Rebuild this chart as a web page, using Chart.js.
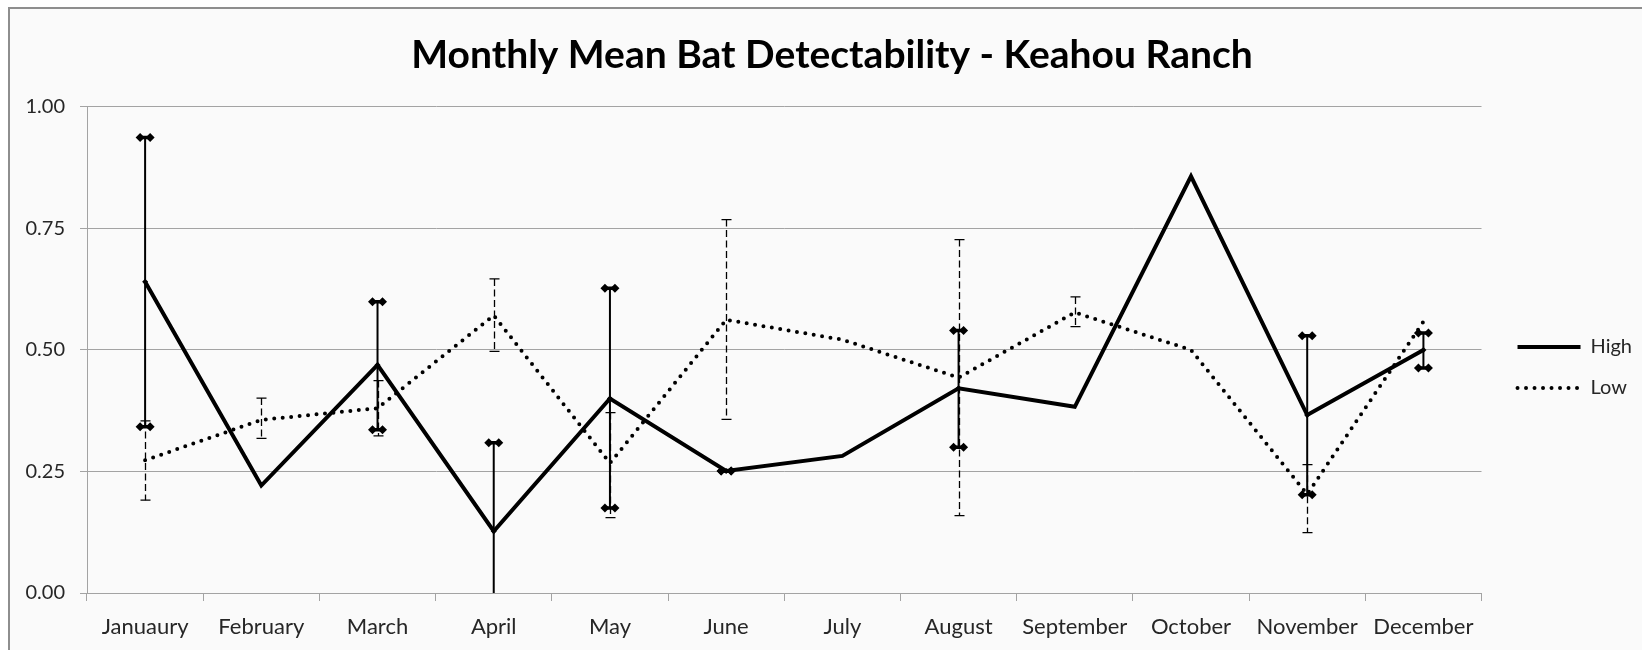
<!DOCTYPE html>
<html>
<head>
<meta charset="utf-8">
<script src="https://cdn.jsdelivr.net/npm/chart.js@4.4.1/dist/chart.umd.min.js"></script>
<style>
  body { margin: 0; background: #ffffff; }
  #frame { position: absolute; left: 8px; top: 7px; width: 1700px; height: 700px; border: 2px solid #8e8e8e; background: #fafafa; }
  #myChart { position: absolute; left: 0; top: 0; }
</style>
</head>
<body>
<div id="frame"></div>
<canvas id="myChart" width="1642" height="650"></canvas>
<script>
// months as written on the original chart
var months = ['Januaury', 'February', 'March', 'April', 'May', 'June', 'July', 'August', 'September', 'October', 'November', 'December'];

// High detectability: mean and error bar ends (null = no bar)
var highMean  = [0.640, 0.221, 0.469, 0.127, 0.400, 0.251, 0.282, 0.421, 0.383, 0.857, 0.366, 0.500];
var highUpper = [0.937, null,  0.599, 0.309, 0.627, 0.251, null,  0.540, null,  null,  0.529, 0.535];
var highLower = [0.342, null,  0.336, -0.055, 0.175, 0.251, null, 0.300, null,  null,  0.202, 0.463];

// Low detectability
var lowMean  = [0.273, 0.356, 0.380, 0.571, 0.267, 0.562, 0.521, 0.443, 0.577, 0.500, 0.203, 0.558];
var lowUpper = [0.354, 0.401, 0.437, 0.646, 0.371, 0.768, null,  0.727, 0.609, null,  0.264, null];
var lowLower = [0.191, 0.318, 0.323, 0.497, 0.155, 0.357, null,  0.159, 0.548, null,  0.124, null];

var yTicks = [0, 0.25, 0.5, 0.75, 1];

var gridGrey = '#a3a3a3';
var textCol = '#262626';

function diamond(ctx, x, y, hw, hh) {
    ctx.beginPath();
    ctx.moveTo(x - hw, y);
    ctx.lineTo(x, y - hh);
    ctx.lineTo(x + hw, y);
    ctx.lineTo(x, y + hh);
    ctx.closePath();
    ctx.fill();
}

// draws the error bars using the chart's own scales
var errorBars = {
    id: 'errorBars',
    afterDatasetsDraw: function(chart) {
        var ctx = chart.ctx;
        var xs = chart.scales.x, ys = chart.scales.y, a = chart.chartArea;
        ctx.save();
        ctx.beginPath();
        ctx.rect(a.left, a.top - 20, a.right - a.left, a.bottom - a.top + 20);
        ctx.clip();
        ctx.strokeStyle = '#000';
        ctx.fillStyle = '#000';

        // low: thin dashed bars with plain caps
        ctx.lineWidth = 1.3;
        for (var i = 0; i < months.length; i++) {
            if (lowUpper[i] == null) continue;
            var px = Math.round(xs.getPixelForValue(i)) + 0.5;
            var yt = ys.getPixelForValue(lowUpper[i]);
            var yb = ys.getPixelForValue(lowLower[i]);
            ctx.setLineDash([7, 3.5]);
            ctx.beginPath();
            ctx.moveTo(px, yt);
            ctx.lineTo(px, yb);
            ctx.stroke();
            ctx.setLineDash([]);
            ctx.beginPath();
            ctx.moveTo(px - 5, yt); ctx.lineTo(px + 5, yt);
            ctx.moveTo(px - 5, yb); ctx.lineTo(px + 5, yb);
            ctx.stroke();
        }

        // high: solid bars with diamond-ended caps
        for (var j = 0; j < months.length; j++) {
            if (highUpper[j] == null) continue;
            var hx = xs.getPixelForValue(j);
            var ht = ys.getPixelForValue(highUpper[j]);
            var hb = ys.getPixelForValue(highLower[j]);
            var hm = ys.getPixelForValue(highMean[j]);
            ctx.lineWidth = 2;
            ctx.beginPath();
            ctx.moveTo(hx, ht);
            ctx.lineTo(hx, hb);
            ctx.stroke();
            [ht, hb].forEach(function(cy) {
                ctx.lineWidth = 3.5;
                ctx.beginPath();
                ctx.moveTo(hx - 5, cy); ctx.lineTo(hx + 5, cy);
                ctx.stroke();
                diamond(ctx, hx - 5, cy, 4.5, 4.5);
                diamond(ctx, hx + 5, cy, 4.5, 4.5);
            });
            diamond(ctx, hx, hm, 3, 3);
        }
        ctx.restore();
    }
};

var ctx = document.getElementById('myChart').getContext('2d');
var myChart = new Chart(ctx, {
    type: 'line',
    data: {
        labels: months,
        datasets: [{
            label: 'High',
            data: highMean,
            borderColor: '#000',
            backgroundColor: '#000',
            borderWidth: 4,
            pointRadius: 0,
            tension: 0
        }, {
            label: 'Low',
            data: lowMean,
            borderColor: '#000',
            backgroundColor: '#000',
            borderWidth: 4,
            borderDash: [0, 8.5],
            borderCapStyle: 'round',
            pointRadius: 0,
            tension: 0
        }]
    },
    options: {
        responsive: false,
        animation: false,
        devicePixelRatio: 1,
        layout: { padding: { left: 22, right: 0, top: 0, bottom: 0 } },
        plugins: {
            title: {
                display: true,
                text: 'Monthly Mean Bat Detectability - Keahou Ranch',
                color: '#000',
                font: { family: 'Lato', size: 39, weight: 'bold' },
                padding: { top: 32, bottom: 28 }
            },
            legend: {
                position: 'right',
                // empty legend title only pushes the entries down
                title: { display: true, text: ' ', font: { size: 10 }, padding: { top: 73, bottom: 0 } },
                labels: {
                    usePointStyle: true,
                    pointStyle: 'line',
                    pointStyleWidth: 63,
                    color: textCol,
                    padding: 21,
                    font: { family: 'Lato', size: 20 },
                    generateLabels: function(chart) {
                        var items = Chart.defaults.plugins.legend.labels.generateLabels(chart);
                        items.forEach(function(it) {
                            var ds = chart.data.datasets[it.datasetIndex];
                            it.lineDash = ds.borderDash || [];
                            it.lineCap = ds.borderCapStyle || 'butt';
                            it.lineWidth = ds.borderWidth;
                        });
                        return items;
                    }
                }
            },
            tooltip: { enabled: false }
        },
        scales: {
            x: {
                offset: true,
                grid: { offset: true, drawOnChartArea: false, drawTicks: true, tickLength: 8, color: gridGrey },
                border: { color: gridGrey, width: 1 },
                ticks: { color: textCol, padding: 13, maxRotation: 0, font: { family: 'Lato', size: 22 } },
                afterFit: function(s) { s.height = 57; }
            },
            y: {
                min: 0,
                max: 1,
                afterBuildTicks: function(s) { s.ticks = yTicks.map(function(v) { return { value: v }; }); },
                grid: { color: gridGrey, tickLength: 7 },
                border: { color: gridGrey, width: 1 },
                ticks: {
                    color: textCol,
                    padding: 15,
                    font: { family: 'Lato', size: 20 },
                    callback: function(v) { return Number(v).toFixed(2); }
                },
                afterFit: function(s) { s.width = 65; }
            },
            // empty strip so the plot stops short of the legend
            gap: {
                position: 'right',
                display: true,
                grid: { display: false },
                border: { display: false },
                ticks: { display: false },
                afterFit: function(s) { s.width = 15; }
            }
        }
    },
    plugins: [errorBars]
});
</script>
</body>
</html>
